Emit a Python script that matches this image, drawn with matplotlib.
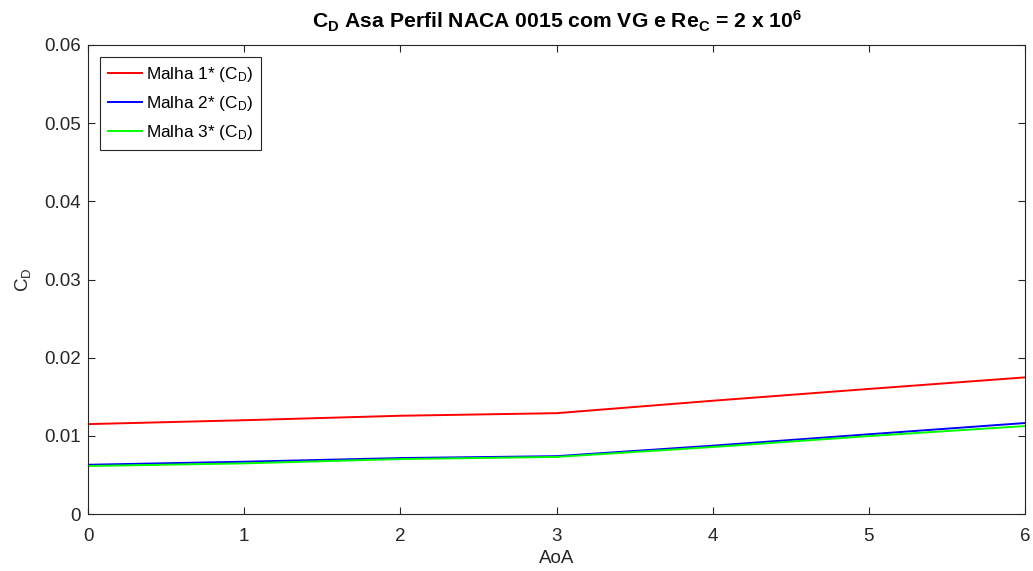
import numpy as np
import matplotlib.pyplot as plt

plt.rcParams.update({
    "font.family": "Liberation Sans",
    "mathtext.fontset": "custom",
    "mathtext.rm": "Liberation Sans",
    "mathtext.it": "Liberation Sans",
    "mathtext.bf": "Liberation Sans:bold",
})

# Angle of attack and drag coefficient for each mesh
aoa = [0, 1, 2, 3, 4, 5, 6]
cd_malha1 = [0.0115, 0.0120, 0.01257, 0.0129, 0.01449, 0.0160, 0.01748]
cd_malha2 = [0.0063, 0.00669, 0.00716, 0.0074, 0.00874, 0.0102, 0.01164]
cd_malha3 = [0.00614, 0.00648, 0.00703, 0.0073, 0.00857, 0.00997, 0.01125]

labels = [r"Malha 1* (C$_\mathrm{D}$)", r"Malha 2* (C$_\mathrm{D}$)", r"Malha 3* (C$_\mathrm{D}$)"]
colors = ["#ff0000", "#0000ff", "#00ff00"]

fig = plt.figure(figsize=(10.33, 5.71), dpi=100)
ax = fig.add_axes([0.0852, 0.0998, 0.9071, 0.8214])

for y, lab, c in zip([cd_malha1, cd_malha2, cd_malha3], labels, colors):
    ax.plot(aoa, y, color=c, linewidth=1.4, label=lab)

ax.set_xlim(0, 6)
ax.set_ylim(0, 0.06)
ax.set_xticks(range(0, 7))
ax.set_yticks(np.arange(0, 0.061, 0.01))
ax.set_yticklabels(["0", "0.01", "0.02", "0.03", "0.04", "0.05", "0.06"])

gray = "#262626"
for s in ax.spines.values():
    s.set_color(gray)
    s.set_linewidth(0.8)
ax.tick_params(direction="in", length=5, colors=gray, labelsize=13.5,
               top=True, right=True, labeltop=False, labelright=False)
ax.tick_params(axis="x", pad=10)
ax.tick_params(axis="y", pad=5)

ax.set_xlabel("AoA", fontsize=13.5, color=gray, labelpad=4)
ax.set_ylabel(r"C$_\mathrm{D}$", fontsize=13.5, color=gray, labelpad=8)
ax.set_title(r"C$_\mathbf{D}$ Asa Perfil NACA 0015 com VG e Re$_\mathbf{C}$ = 2 x 10$^\mathbf{6}$",
             fontsize=15.2, fontweight="bold", pad=12)

leg = ax.legend(loc="upper left", fontsize=12.4, fancybox=False, framealpha=1,
                edgecolor=gray, borderaxespad=0.7, handlelength=2.0,
                handletextpad=0.2, labelspacing=0.58, borderpad=0.45)
leg.get_frame().set_linewidth(0.8)

fig.savefig("out.png", dpi=100)
